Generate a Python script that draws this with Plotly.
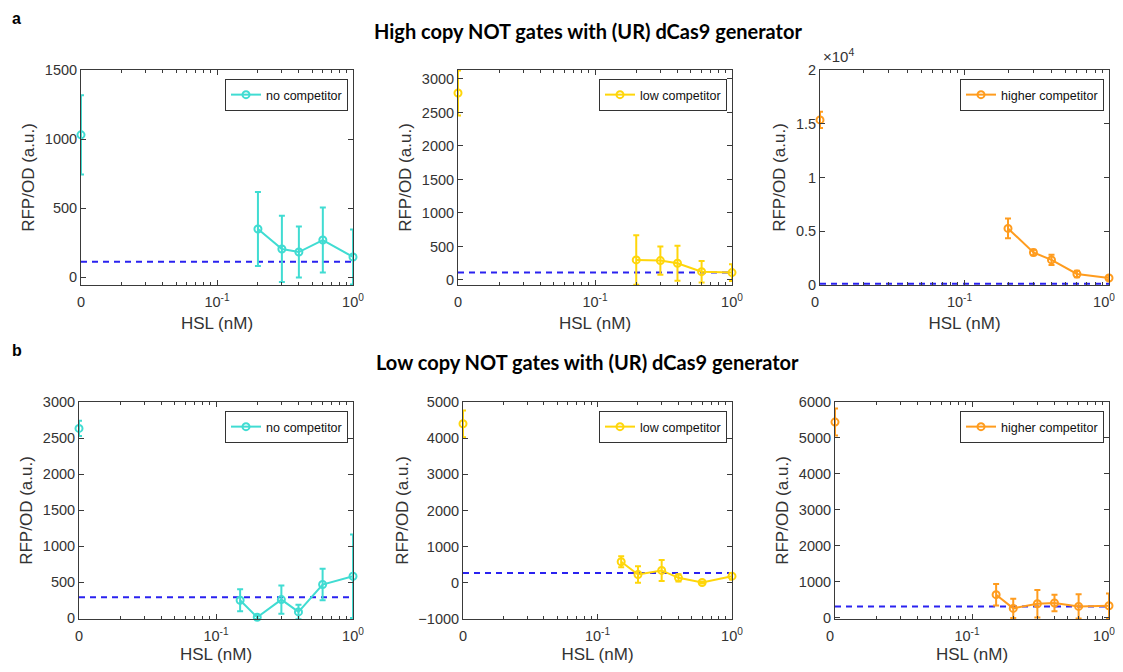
import plotly.graph_objects as go

# ---------------- data ----------------
hsl_a = [0.2, 0.3, 0.4, 0.6, 1.0]
hsl_b = [0.15, 0.2, 0.3, 0.4, 0.6, 1.0]
zero_pos = 0.01  # where HSL = 0 is drawn on the log axis

a_no_zero, a_no_zero_err = 1030, 287
a_no = [348, 203, 181, 268, 145]
a_no_err = [268, 240, 185, 235, 200]

a_low_zero, a_low_zero_err = 2790, 335
a_low = [299, 289, 249, 124, 110]
a_low_err = [370, 210, 260, 160, 125]

a_high_zero, a_high_zero_err = 15360, 750
a_high = [5265, 3022, 2336, 1028, 654]
a_high_err = [920, 250, 470, 300, 200]

b_no_zero, b_no_zero_err = 2634, 105
b_no = [250, 14, 259, 88, 468, 583]
b_no_err = [153, 25, 195, 100, 218, 580]

b_low_zero, b_low_zero_err = 4398, 370
b_low = [583, 231, 343, 139, 10, 185]
b_low_err = [150, 230, 290, 100, 30, 90]

b_high_zero, b_high_zero_err = 5441, 375
b_high = [641, 260, 390, 409, 316, 334]
b_high_err = [300, 270, 380, 230, 340, 340]

baselines = [110, 110, 110, 292, 270, 310]

series_names = ["no competitor", "low competitor", "higher competitor"]
x_tick_vals = [0.01, 0.1, 1]
x_tick_text = ["0", "10<sup>-1</sup>", "10<sup>0</sup>"]
minor_vals = [0.02, 0.03, 0.04, 0.05, 0.06, 0.07, 0.08, 0.09,
              0.2, 0.3, 0.4, 0.5, 0.6, 0.7, 0.8, 0.9]

y_ranges = [[-58, 1500], [-75, 3134], [0, 20000],
            [-10, 3000], [-1000, 5000], [-35, 6000]]
y_ticks = [[0, 500, 1000, 1500],
           [0, 500, 1000, 1500, 2000, 2500, 3000],
           [0, 5000, 10000, 15000, 20000],
           [0, 500, 1000, 1500, 2000, 2500, 3000],
           [-1000, 0, 1000, 2000, 3000, 4000, 5000],
           [0, 1000, 2000, 3000, 4000, 5000, 6000]]
y_tick_text = [None, None, ["0", "0.5", "1", "1.5", "2"], None, None, None]

colors = ["#40DCD2", "#FFD60A", "#FF9C1E"]
dash_color = "#2A22F0"

# page body has an 8px margin; lay out in reference pixels minus that offset
OFF = 8
W, H = 1123 - OFF, 672 - 2 * OFF


def fx(p):
    return (p - OFF) / W


def fy(p):
    return 1 - (p - OFF) / H


# pixel boxes in reference (left, right, top, bottom)
boxes = [(81, 353, 70, 285), (458, 732, 70, 285), (820, 1109, 70, 285),
         (79, 353, 402, 619), (463, 732, 402, 619), (835, 1109, 402, 619)]
label_shift = [0, 0, -5, 0, 0, -5]

panels = [
    (hsl_a, a_no, a_no_err, a_no_zero, a_no_zero_err, 0),
    (hsl_a, a_low, a_low_err, a_low_zero, a_low_zero_err, 1),
    (hsl_a, a_high, a_high_err, a_high_zero, a_high_zero_err, 2),
    (hsl_b, b_no, b_no_err, b_no_zero, b_no_zero_err, 0),
    (hsl_b, b_low, b_low_err, b_low_zero, b_low_zero_err, 1),
    (hsl_b, b_high, b_high_err, b_high_zero, b_high_zero_err, 2),
]

FONT = "Liberation Sans, Arial, sans-serif"
AXC = "#3a3a3a"
TXC = "#333333"

fig = go.Figure()
layout = {}
for i, (xs, ys, es, z, ze, ci) in enumerate(panels):
    n = "" if i == 0 else str(i + 1)
    xa, ya = "x" + n, "y" + n
    lg = "legend" + n
    col = colors[ci]
    # baseline dashed
    fig.add_trace(go.Scatter(
        x=[zero_pos, 1], y=[baselines[i], baselines[i]], mode="lines",
        line=dict(color=dash_color, width=2, dash="6px,5px"),
        showlegend=False, xaxis=xa, yaxis=ya, hoverinfo="skip", cliponaxis=False))
    # zero HSL point
    fig.add_trace(go.Scatter(
        x=[zero_pos], y=[z], mode="markers",
        marker=dict(symbol="circle-open", size=7, color=col, line=dict(width=2, color=col)),
        error_y=dict(type="data", array=[ze], color=col, thickness=2, width=3),
        showlegend=False, xaxis=xa, yaxis=ya, cliponaxis=False))
    # series
    fig.add_trace(go.Scatter(
        x=xs, y=ys, mode="lines+markers", name=series_names[ci],
        line=dict(color=col, width=2),
        marker=dict(symbol="circle-open", size=7, color=col, line=dict(width=2, color=col)),
        error_y=dict(type="data", array=es, color=col, thickness=2, width=3),
        xaxis=xa, yaxis=ya, legend=lg, cliponaxis=False))

    l, r, t, b = boxes[i]
    layout["xaxis" + n] = dict(
        type="log", range=[-2, 0], domain=[fx(l), fx(r)], anchor=ya,
        tickmode="array", tickvals=x_tick_vals, ticktext=x_tick_text,
        ticks="inside", ticklen=5, tickwidth=1, tickcolor=AXC,
        minor=dict(tickmode="array", tickvals=minor_vals, ticks="inside",
                   ticklen=3, tickcolor=AXC, showgrid=False),
        showline=True, linecolor=AXC, linewidth=1, mirror="ticks",
        showgrid=False, zeroline=False, ticklabelstandoff=4,
        ticklabelshift=label_shift[i], ticklabeloverflow="allow",
        tickfont=dict(family=FONT, size=14.5, color=TXC),
        title=dict(text="HSL (nM)", font=dict(family=FONT, size=17, color=TXC), standoff=7),
        automargin=False)
    ydict = dict(
        range=y_ranges[i], domain=[fy(b), fy(t)], anchor=xa,
        tickmode="array", tickvals=y_ticks[i],
        ticks="inside", ticklen=5, tickwidth=1, tickcolor=AXC,
        showline=True, linecolor=AXC, linewidth=1, mirror="ticks",
        showgrid=False, zeroline=False,
        tickfont=dict(family=FONT, size=14.5, color=TXC),
        title=dict(text="RFP/OD (a.u.)", font=dict(family=FONT, size=17, color=TXC), standoff=5),
        automargin=False)
    if y_tick_text[i] is not None:
        ydict["ticktext"] = y_tick_text[i]
    layout["yaxis" + n] = ydict
    layout[lg] = dict(
        x=fx(r - 5), y=fy(t + 9), xanchor="right", yanchor="top",
        xref="paper", yref="paper",
        bgcolor="white", bordercolor="#333", borderwidth=1,
        font=dict(family=FONT, size=12.5, color="#111"),
        itemwidth=30, tracegroupgap=0)

TFONT = "Lato, Open Sans, sans-serif"
annotations = [
    dict(text="<b>a</b>", x=fx(10), y=fy(18), xref="paper", yref="paper",
         xanchor="left", yanchor="middle", showarrow=False,
         font=dict(family=FONT, size=16, color="black")),
    dict(text="<b>b</b>", x=fx(10), y=fy(350), xref="paper", yref="paper",
         xanchor="left", yanchor="middle", showarrow=False,
         font=dict(family=FONT, size=16, color="black")),
    dict(text="<b>High copy NOT gates with (UR) dCas9 generator</b>", x=fx(588), y=fy(31),
         xref="paper", yref="paper", xanchor="center", yanchor="middle", showarrow=False,
         font=dict(family=TFONT, size=20, color="black")),
    dict(text="<b>Low copy NOT gates with (UR) dCas9 generator</b>", x=fx(588), y=fy(362),
         xref="paper", yref="paper", xanchor="center", yanchor="middle", showarrow=False,
         font=dict(family=TFONT, size=20, color="black")),
    dict(text="×10<sup>4</sup>", x=fx(821), y=fy(67), xref="paper", yref="paper",
         xanchor="left", yanchor="bottom", showarrow=False,
         font=dict(family=FONT, size=15, color=TXC)),
]

fig.update_layout(
    width=W, height=H, margin=dict(l=0, r=0, t=0, b=0),
    paper_bgcolor="white", plot_bgcolor="white",
    annotations=annotations, **layout)

fig.write_html("out.html")
